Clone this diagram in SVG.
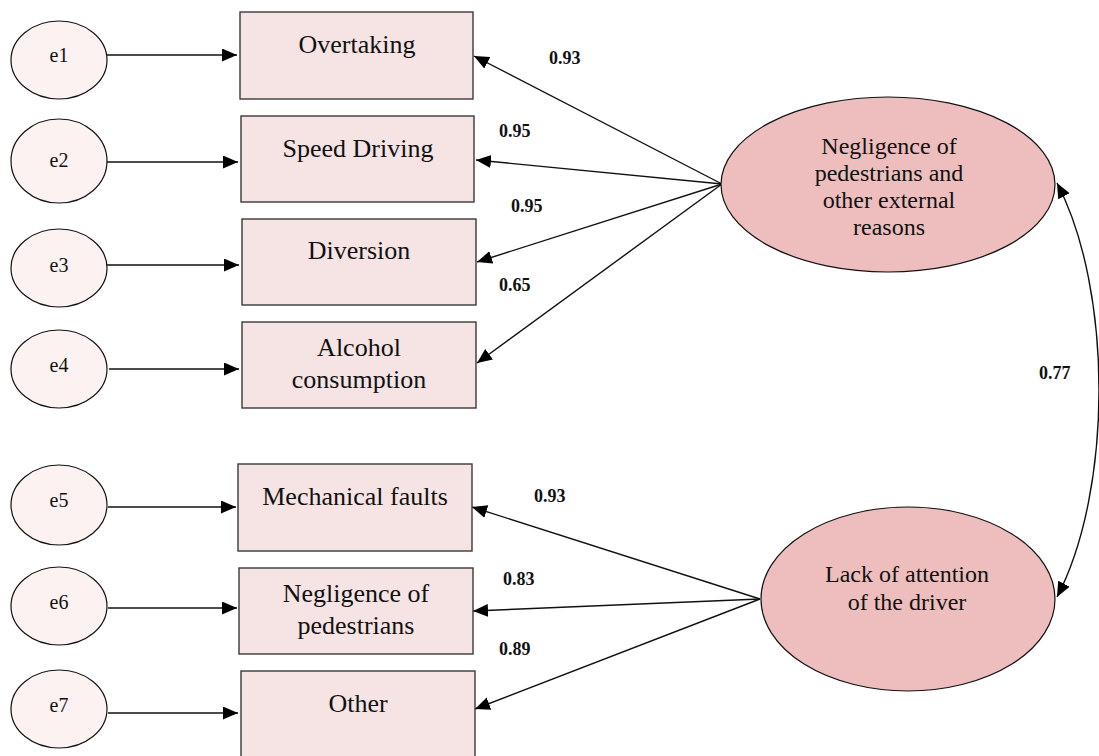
<svg xmlns="http://www.w3.org/2000/svg" width="1099" height="756" viewBox="0 0 1099 756">
<style>
.obs{fill:#f6e4e4;stroke:#3a3a3a;stroke-width:1.4}
.err{fill:#fcf2f1;stroke:#111;stroke-width:1.2}
.lat{fill:#eebebe;stroke:#111;stroke-width:1.2}
.t{font-family:"Liberation Serif","Times New Roman",serif;fill:#111;text-anchor:middle}
.bt{font-size:26px}
.et{font-size:20px}
.lt{font-size:24px}
.num{font-family:"Liberation Serif","Times New Roman",serif;font-weight:bold;font-size:18px;fill:#111}
.c{stroke:#111;stroke-width:1.4;fill:none}
</style>
<defs>
<marker id="ah" markerUnits="userSpaceOnUse" markerWidth="16" markerHeight="14" refX="15" refY="6.5" orient="auto-start-reverse">
<path d="M0,0 L15,6.5 L0,13 z" fill="#000"/>
</marker>
</defs>
<rect width="1099" height="756" fill="#fff"/>
<g id="connectors">
<line class="c" x1="107" y1="55" x2="237" y2="55" marker-end="url(#ah)"/>
<line class="c" x1="107" y1="162" x2="238" y2="162" marker-end="url(#ah)"/>
<line class="c" x1="107" y1="265" x2="239" y2="265" marker-end="url(#ah)"/>
<line class="c" x1="109" y1="369" x2="239" y2="369" marker-end="url(#ah)"/>
<line class="c" x1="108" y1="507" x2="236" y2="507" marker-end="url(#ah)"/>
<line class="c" x1="108" y1="608" x2="237" y2="608" marker-end="url(#ah)"/>
<line class="c" x1="108" y1="713" x2="238" y2="713" marker-end="url(#ah)"/>
<line class="c" x1="722" y1="184" x2="474" y2="56" marker-end="url(#ah)"/>
<line class="c" x1="722" y1="184" x2="476" y2="160" marker-end="url(#ah)"/>
<line class="c" x1="722" y1="184" x2="477" y2="262" marker-end="url(#ah)"/>
<line class="c" x1="722" y1="184" x2="477" y2="363" marker-end="url(#ah)"/>
<line class="c" x1="760" y1="599" x2="472" y2="507" marker-end="url(#ah)"/>
<line class="c" x1="760" y1="599" x2="473" y2="611" marker-end="url(#ah)"/>
<line class="c" x1="760" y1="599" x2="475" y2="709" marker-end="url(#ah)"/>
<path class="c" d="M1057,183 C1113,290 1113,490 1057,597" marker-start="url(#ah)" marker-end="url(#ah)"/>
</g>
<g id="labels">
<text class="num" x="549" y="64">0.93</text>
<text class="num" x="499" y="137">0.95</text>
<text class="num" x="511" y="212">0.95</text>
<text class="num" x="499" y="291">0.65</text>
<text class="num" x="1039" y="379">0.77</text>
<text class="num" x="534" y="502">0.93</text>
<text class="num" x="503" y="585">0.83</text>
<text class="num" x="499" y="655">0.89</text>
</g>
<g id="e1"><ellipse class="err" cx="59" cy="60" rx="48" ry="39"/><text class="t et" x="59" y="62">e1</text></g>
<g id="e2"><ellipse class="err" cx="59" cy="161" rx="48" ry="42"/><text class="t et" x="59" y="167">e2</text></g>
<g id="e3"><ellipse class="err" cx="59" cy="268" rx="48" ry="39"/><text class="t et" x="59" y="272">e3</text></g>
<g id="e4"><ellipse class="err" cx="59" cy="369" rx="48" ry="39"/><text class="t et" x="59" y="372">e4</text></g>
<g id="e5"><ellipse class="err" cx="59" cy="505" rx="48" ry="40"/><text class="t et" x="59" y="507">e5</text></g>
<g id="e6"><ellipse class="err" cx="59" cy="606" rx="48" ry="39"/><text class="t et" x="59" y="609">e6</text></g>
<g id="e7"><ellipse class="err" cx="59" cy="709" rx="48" ry="39"/><text class="t et" x="59" y="712">e7</text></g>
<g id="overtaking"><rect class="obs" x="240" y="12" width="233" height="87"/><text class="t bt" x="357" y="53">Overtaking</text></g>
<g id="speed-driving"><rect class="obs" x="241" y="116" width="233" height="86"/><text class="t bt" x="358" y="157">Speed Driving</text></g>
<g id="diversion"><rect class="obs" x="242" y="219" width="234" height="86"/><text class="t bt" x="359" y="259">Diversion</text></g>
<g id="alcohol"><rect class="obs" x="242" y="322" width="234" height="86"/><text class="t bt" x="359" y="356">Alcohol</text><text class="t bt" x="359" y="388">consumption</text></g>
<g id="mechanical"><rect class="obs" x="238" y="464" width="234" height="87"/><text class="t bt" x="355" y="505">Mechanical faults</text></g>
<g id="neg-ped"><rect class="obs" x="239" y="568" width="234" height="86"/><text class="t bt" x="356" y="602">Negligence of</text><text class="t bt" x="356" y="634">pedestrians</text></g>
<g id="other"><rect class="obs" x="241" y="671" width="234" height="100"/><text class="t bt" x="358" y="712">Other</text></g>
<g id="latent1"><ellipse class="lat" cx="888" cy="184.5" rx="167" ry="87.5"/>
<text class="t lt" x="889" y="154">Negligence of</text>
<text class="t lt" x="889" y="181">pedestrians and</text>
<text class="t lt" x="889" y="208">other external</text>
<text class="t lt" x="889" y="235">reasons</text></g>
<g id="latent2"><ellipse class="lat" cx="908" cy="599" rx="147" ry="92"/>
<text class="t lt" x="907" y="582">Lack of attention</text>
<text class="t lt" x="907" y="610">of the driver</text></g>
</svg>
